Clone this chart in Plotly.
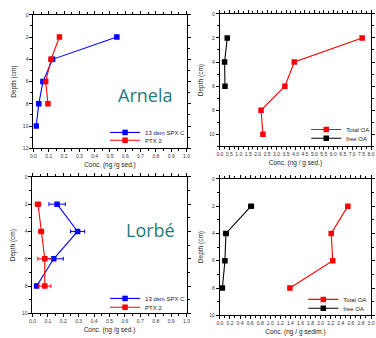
import plotly.graph_objects as go

# ---------------- data ----------------
# Arnela (top-left)
arn_depth_spx = [2, 4, 6, 8, 10]
arn_spx = [0.545, 0.125, 0.062, 0.035, 0.018]
arn_depth_ptx = [2, 4, 6, 8]
arn_ptx = [0.17, 0.115, 0.08, 0.095]
arn_ptx_err = [0.012, 0.012, 0.008, 0.008]

# Arnela OA (top-right)
arn_depth_total = [2, 4, 6, 8, 10]
arn_total_oa = [7.53, 3.94, 3.44, 2.18, 2.28]
arn_depth_free = [2, 4, 6]
arn_free_oa = [0.39, 0.25, 0.27]

# Lorbé (bottom-left)
lor_depth = [2, 4, 6, 8]
lor_spx = [0.16, 0.293, 0.138, 0.027]
lor_spx_err = [0.053, 0.046, 0.062, 0.0]
lor_ptx = [0.036, 0.057, 0.08, 0.08]
lor_ptx_err = [0.018, 0.016, 0.045, 0.04]

# Lorbé OA (bottom-right)
lor_total_oa = [2.54, 2.21, 2.24, 1.39]
lor_free_oa = [0.62, 0.12, 0.10, 0.05]
lor_free_err = [0.05, 0.05, 0.0, 0.0]

BLUE = "#0000ff"
RED = "#ff0000"
BLACK = "#000000"
TEAL = "#1f7a7a"
FONT = "Liberation Sans, Arial, sans-serif"

W, H = 376, 338


def dom_x(a, b):
    return [a / W, b / W]


def dom_y(top, bottom):
    return [1 - bottom / H, 1 - top / H]


fig = go.Figure()


def add(x, y, name, color, xa, ya, legend, err=None):
    kw = {}
    if err is not None:
        kw["error_x"] = dict(type="data", array=err, visible=True, color=color,
                             thickness=1, width=2)
    fig.add_trace(go.Scatter(
        x=x, y=y, name=name, mode="lines+markers",
        line=dict(color=color, width=1.1),
        marker=dict(symbol="square", size=5.5, color=color),
        xaxis=xa, yaxis=ya, legend=legend, **kw))


add(arn_spx, arn_depth_spx, "13 dsm SPX C", BLUE, "x", "y", "legend")
add(arn_ptx, arn_depth_ptx, "PTX 2", RED, "x", "y", "legend5", arn_ptx_err)

add(arn_total_oa, arn_depth_total, "Total OA", RED, "x2", "y2", "legend2")
add(arn_free_oa, arn_depth_free, "free OA", BLACK, "x2", "y2", "legend6")

add(lor_spx, lor_depth, "13 dsm SPX C", BLUE, "x3", "y3", "legend3", lor_spx_err)
add(lor_ptx, lor_depth, "PTX 2", RED, "x3", "y3", "legend7", lor_ptx_err)

add(lor_total_oa, lor_depth, "Total OA", RED, "x4", "y4", "legend4")
add(lor_free_oa, lor_depth, "free OA", BLACK, "x4", "y4", "legend8", lor_free_err)

tickfont = dict(size=5, family=FONT, color="#333333")
titlefont = dict(size=6.5, family=FONT, color="#222222")


def xaxis(domain, rng, dtick, minor, anchor, title):
    return dict(domain=domain, range=rng, dtick=dtick, tick0=0,
                tickformat=".1f", showgrid=False, zeroline=False,
                showline=True, linecolor="black", linewidth=1, mirror="ticks",
                ticks="outside", ticklen=3, tickcolor="black",
                minor=dict(ticks="outside", ticklen=2, dtick=minor, tickcolor="black"),
                tickfont=tickfont, anchor=anchor,
                title=dict(text=title, font=titlefont, standoff=4))


def yaxis(domain, rng, anchor):
    return dict(domain=domain, range=rng, dtick=2, tick0=0,
                showgrid=False, zeroline=False,
                showline=True, linecolor="black", linewidth=1, mirror="ticks",
                ticks="outside", ticklen=3, tickcolor="black",
                minor=dict(ticks="outside", ticklen=2, dtick=1, tickcolor="black"),
                tickfont=tickfont, anchor=anchor,
                title=dict(text="Depth (cm)", font=titlefont, standoff=5))


legfont = dict(size=6, family=FONT, color="#222222")


def legend(x, y):
    return dict(x=x / W, y=1 - y / H, xanchor="left", yanchor="top",
                orientation="v", font=legfont, bgcolor="rgba(0,0,0,0)",
                tracegroupgap=0, itemwidth=30, borderwidth=0)


fig.update_layout(
    width=W, height=H,
    margin=dict(l=0, r=0, t=0, b=0),
    paper_bgcolor="white", plot_bgcolor="white",
    font=dict(family=FONT),
    showlegend=True,
    xaxis=xaxis(dom_x(31, 187), [0, 1.0], 0.1, 0.05, "y", "Conc. (ng /g sed.)"),
    yaxis=yaxis(dom_y(12, 148), [12, 0], "x"),
    xaxis2=xaxis(dom_x(221, 375), [0, 8.0], 0.5, 0.25, "y2", "Conc. (ng / g sed.)"),
    yaxis2=yaxis(dom_y(11, 146), [11, 0], "x2"),
    xaxis3=xaxis(dom_x(30, 187), [0, 1.0], 0.1, 0.05, "y3", "Conc. (ng /g sed.)"),
    yaxis3=yaxis(dom_y(177, 316), [10, 0], "x3"),
    xaxis4=xaxis(dom_x(221, 375), [0, 3.0], 0.2, 0.1, "y4", "Conc. (ng / g sedim.)"),
    yaxis4=yaxis(dom_y(179, 318), [10, 0], "x4"),
    legend=legend(104, 117),
    legend5=legend(104, 125),
    legend2=legend(309, 114),
    legend6=legend(309, 123),
    legend3=legend(104, 286),
    legend7=legend(104, 295),
    legend4=legend(306, 287),
    legend8=legend(306, 296),
    annotations=[
        dict(text="Arnela", x=145 / W, y=1 - 79 / H, xref="paper", yref="paper",
             showarrow=False, font=dict(size=18, color=TEAL, family="Open Sans, Liberation Sans")),
        dict(text="Lorbé", x=150 / W, y=1 - 245 / H, xref="paper", yref="paper",
             showarrow=False, font=dict(size=18, color=TEAL, family="Open Sans, Liberation Sans")),
    ],
)

fig.write_html("out.html")
